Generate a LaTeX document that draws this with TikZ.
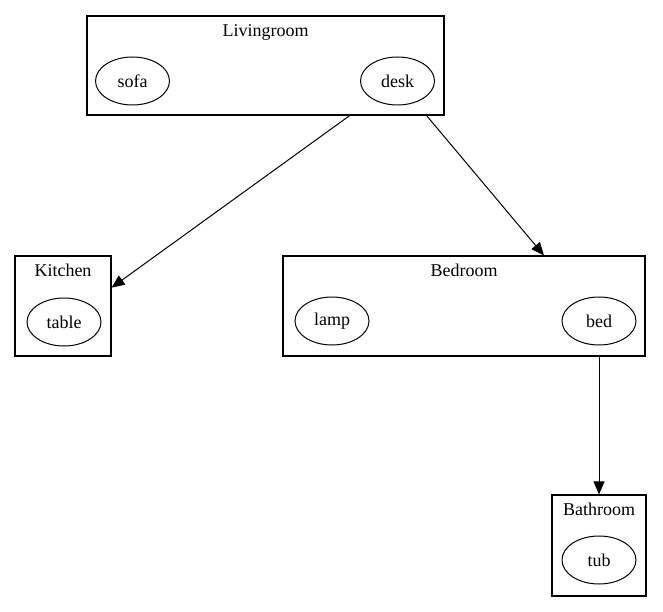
\documentclass[tikz,border=0pt]{standalone}
\usepackage{fontspec}
\setmainfont{Liberation Serif}
\usetikzlibrary{arrows.meta,shapes.geometric,calc}

\begin{document}
\begin{tikzpicture}[x=1pt,y=-1pt,>={Triangle[length=13pt,width=11pt]},line width=1.1pt,font=\fontsize{18}{20}\selectfont]
    \tikzstyle{room}=[rectangle,draw,inner sep=0pt]
    \tikzstyle{thing}=[ellipse,draw,line width=1pt,inner sep=0pt,minimum width=74pt,minimum height=48pt]
    \tikzstyle{title}=[anchor=base,inner sep=0pt]
    \tikzstyle{edge}=[->,line width=1pt]
    \useasboundingbox (0,0) rectangle (663,612);
    % rooms
    \node[room,minimum width=357pt,minimum height=99pt] (living) at (265.5,65.5) {};
    \node[room,minimum width=96pt,minimum height=100pt] (kitchen) at (63,306) {};
    \node[room,minimum width=362pt,minimum height=100pt] (bedroom) at (464,306) {};
    \node[room,minimum width=94pt,minimum height=101pt] (bathroom) at (599,545.5) {};
    \node[title] at ([yshift=-21pt]living.north) {Livingroom};
    \node[title] at ([yshift=-21pt]kitchen.north) {Kitchen};
    \node[title] at ([yshift=-21pt]bedroom.north) {Bedroom};
    \node[title] at ([yshift=-21pt]bathroom.north) {Bathroom};
    % things in the rooms
    \node[thing] (sofa) at (132.5,81) {sofa};
    \node[thing] (desk) at (397.5,81) {desk};
    \node[thing] (table) at (64,322) {table};
    \node[thing] (lamp) at (332,321) {lamp};
    \node[thing] (bed) at (599,321) {bed};
    \node[thing] (tub) at (599,560) {tub};
    % edges, cut at the room borders
    \draw[edge] (intersection of desk.center--table.center and living.south west--living.south east)
        -- (intersection of desk.center--table.center and kitchen.north east--kitchen.south east);
    \draw[edge] (intersection of desk.center--bed.center and living.south west--living.south east)
        -- (intersection of desk.center--bed.center and bedroom.north west--bedroom.north east);
    \draw[edge] (bedroom.south -| bed) -- (bathroom.north -| bed);
\end{tikzpicture}
\end{document}
